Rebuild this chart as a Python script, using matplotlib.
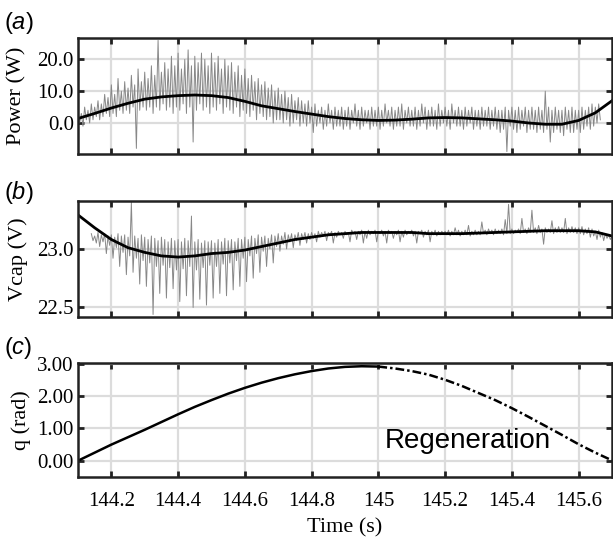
import numpy as np
import matplotlib
matplotlib.use("Agg")
import matplotlib.pyplot as plt

plt.rcParams['font.family'] = ['Liberation Serif', 'DejaVu Serif']
plt.rcParams['mathtext.fontset'] = 'custom'
plt.rcParams['mathtext.it'] = 'Liberation Sans:italic'

# ---- data ----
# smoothed traces, sampled every 0.05 s
t_smooth = [144.10, 144.15, 144.20, 144.25, 144.30, 144.35, 144.40, 144.45, 144.50,
            144.55, 144.60, 144.65, 144.70, 144.75, 144.80, 144.85, 144.90, 144.95,
            145.00, 145.05, 145.10, 145.15, 145.20, 145.25, 145.30, 145.35, 145.40,
            145.45, 145.50, 145.55, 145.60, 145.65, 145.70]
power_mean = [1.4, 3.0, 4.7, 6.2, 7.5, 8.2, 8.6, 8.8, 8.6, 8.0, 6.8, 5.4, 4.5, 3.6, 2.8,
              2.0, 1.4, 1.0, 0.8, 0.9, 1.2, 1.6, 1.7, 1.6, 1.3, 1.0, 0.6, 0.0, -0.4,
              -0.4, 0.8, 3.2, 7.0]
vcap_mean = [23.29, 23.18, 23.08, 23.01, 22.97, 22.94, 22.93, 22.94, 22.96, 22.97,
             22.99, 23.02, 23.05, 23.08, 23.10, 23.12, 23.13, 23.14, 23.14, 23.14,
             23.14, 23.13, 23.13, 23.13, 23.135, 23.14, 23.145, 23.15, 23.155,
             23.155, 23.155, 23.145, 23.11]

# raw power: per 0.01 s bin, peak (hi) and trough (lo), 144.10 .. 145.66
power_hi = [4, 3, 5, 4, 6, 5, 7, 6, 9, 8,
            12, 9, 14, 10, 13, 11, 15, 12, 17, 13,
            16, 14, 18, 15, 26, 16, 19, 17, 21, 18,
            22, 17, 20, 23, 18, 21, 19, 22, 20, 18,
            22, 19, 21, 17, 20, 18, 19, 16, 18, 15,
            17, 14, 15, 13, 14, 12, 13, 11, 12, 10,
            11, 9, 10, 8, 9, 7, 8, 7, 6, 7,
            5, 6, 4, 5, 4, 6, 4, 5, 4, 5,
            4, 5, 4, 6, 4, 5, 4, 4, 5, 4,
            5, 4, 6, 4, 5, 4, 5, 6, 4, 5,
            4, 5, 4, 6, 5, 4, 5, 4, 6, 4,
            5, 4, 6, 4, 5, 4, 5, 4, 5, 4,
            4, 5, 4, 5, 4, 5, 4, 4, 5, 4,
            5, 4, 5, 4, 5, 4, 5, 4, 5, 4,
            10, 5, 4, 5, 4, 4, 5, 4, 5, 4,
            4, 5, 4, 5, 6, 5, 6]
power_lo = [0, -1, 1, 0, 1, 2, 1, 2, 3, 2,
            3, 2, 4, 3, 4, 3, 5, -8, 4, 5,
            4, 5, 3, 5, 4, 6, 4, 5, 3, 5,
            4, 6, 3, 5, -6, 4, 6, 4, 5, 3,
            5, 4, 6, 3, 5, 4, 3, 5, 2, 4,
            3, 2, 4, 1, 3, 2, 1, 2, 0, 1,
            1, 0, 1, -1, 0, 1, -1, 0, -1, 0,
            -3, -1, 0, -2, -1, 0, -2, -1, -1, -2,
            -1, -2, 0, -1, -2, -1, 0, -2, -1, -1,
            -2, -1, 0, -1, -2, -1, -1, -2, 0, -1,
            -1, -2, -1, 0, -2, -1, -1, -2, -1, 0,
            -1, -2, 0, -1, -1, -2, -1, 0, -2, -1,
            -2, -1, -1, -2, -1, -2, -3, -2, -9, -1,
            -2, -3, -2, -1, -3, -2, -2, -3, -2, -3,
            -2, -6, -3, -2, -3, -4, -2, -3, -3, -2,
            -3, -2, -1, -2, -1, 0, 1]

# raw capacitor voltage: per 0.01 s bin, 144.14 .. 145.70
vcap_hi = [23.13, 23.11, 23.14, 23.12, 23.13, 23.11,
           23.12, 23.10, 23.13, 23.11, 23.12, 23.10, 23.40, 23.11, 23.09, 23.12,
           23.10, 23.08, 23.11, 23.09, 23.07, 23.10, 23.08, 23.06, 23.09, 23.07,
           23.08, 23.06, 23.09, 23.07, 23.28, 23.06, 23.08, 23.05, 23.07, 23.06,
           23.07, 23.05, 23.08, 23.06, 23.09, 23.07, 23.08, 23.06, 23.09, 23.08,
           23.10, 23.08, 23.11, 23.09, 23.12, 23.10, 23.11, 23.09, 23.12, 23.11,
           23.13, 23.11, 23.14, 23.12, 23.13, 23.12, 23.14, 23.13, 23.14, 23.13,
           23.14, 23.13, 23.15, 23.14, 23.15, 23.14, 23.15, 23.14, 23.15, 23.14,
           23.15, 23.14, 23.16, 23.15, 23.15, 23.16, 23.15, 23.16, 23.15, 23.16,
           23.15, 23.16, 23.15, 23.16, 23.15, 23.15, 23.16, 23.15, 23.16, 23.15,
           23.16, 23.15, 23.15, 23.16, 23.15, 23.16, 23.15, 23.16, 23.15, 23.15,
           23.15, 23.16, 23.15, 23.18, 23.16, 23.15, 23.16, 23.20, 23.15, 23.16,
           23.15, 23.23, 23.16, 23.17, 23.16, 23.17, 23.16, 23.17, 23.25, 23.38,
           23.17, 23.16, 23.17, 23.26, 23.17, 23.18, 23.33, 23.18, 23.20, 23.17,
           23.18, 23.17, 23.24, 23.18, 23.19, 23.18, 23.26, 23.18, 23.19, 23.18,
           23.18, 23.19, 23.17, 23.18, 23.17, 23.15, 23.16, 23.14, 23.13, 23.12, 23.11]
vcap_lo = [23.07, 23.05, 23.02, 23.06, 22.96, 23.03,
           22.92, 23.01, 22.85, 22.97, 22.78, 22.94, 22.80, 22.92, 22.70, 22.90,
           22.68, 22.88, 22.44, 22.85, 22.62, 22.86, 22.58, 22.84, 22.66, 22.82,
           22.55, 22.83, 22.60, 22.85, 22.50, 22.82, 22.57, 22.84, 22.52, 22.86,
           22.58, 22.85, 22.62, 22.87, 22.60, 22.88, 22.65, 22.90, 22.68, 22.92,
           22.72, 22.94, 22.75, 22.96, 22.80, 22.98, 22.85, 23.00, 22.88, 23.02,
           22.98, 23.04, 23.00, 23.06, 23.01, 23.07, 23.03, 23.08, 23.05, 23.08,
           23.09, 23.06, 23.10, 23.11, 23.07, 23.12, 23.05, 23.10, 23.12, 23.09,
           23.12, 23.06, 23.13, 23.08, 23.12, 23.05, 23.09, 23.12, 23.13, 23.06,
           23.13, 23.11, 23.05, 23.13, 23.09, 23.12, 23.06, 23.10, 23.12, 23.13,
           23.11, 23.05, 23.13, 23.10, 23.12, 23.06, 23.12, 23.11, 23.12, 23.13,
           23.12, 23.11, 23.12, 23.12, 23.11, 23.12, 23.12, 23.11, 23.12, 23.12,
           23.12, 23.13, 23.12, 23.13, 23.12, 23.13, 23.13, 23.12, 23.13, 23.13,
           23.13, 23.14, 23.13, 23.14, 23.13, 23.14, 23.14, 23.13, 23.14, 23.04,
           23.14, 23.14, 23.13, 23.14, 23.14, 23.14, 23.13, 23.14, 23.14, 23.13,
           23.13, 23.12, 23.13, 23.10, 23.11, 23.08, 23.10, 23.07, 23.09, 23.08, 23.09]

# joint angle: driving phase (solid) and regeneration phase (dash-dot)
t_drive = [144.10, 144.15, 144.20, 144.25, 144.30, 144.35, 144.40, 144.45, 144.50, 144.55,
           144.60, 144.65, 144.70, 144.75, 144.80, 144.85, 144.90, 144.95, 145.00]
q_drive = [0.00, 0.25, 0.50, 0.73, 0.96, 1.20, 1.44, 1.67, 1.88, 2.08,
           2.26, 2.42, 2.56, 2.68, 2.78, 2.86, 2.91, 2.93, 2.92]
t_regen = [145.00, 145.05, 145.10, 145.15, 145.20, 145.25, 145.30, 145.35,
           145.40, 145.45, 145.50, 145.55, 145.60, 145.65, 145.70]
q_regen = [2.92, 2.86, 2.78, 2.67, 2.51, 2.32, 2.10, 1.88, 1.63, 1.36,
           1.08, 0.80, 0.51, 0.25, 0.01]

x_ticks = [144.2, 144.4, 144.6, 144.8, 145.0, 145.2, 145.4, 145.6]
x_labels = ['144.2', '144.4', '144.6', '144.8', '145', '145.2', '145.4', '145.6']


def zigzag(t0, hi, lo, step=0.01):
    # each bin drawn as its peak followed by its trough
    t = t0 + step * np.arange(len(hi))
    tz = np.empty(2 * len(hi))
    vz = np.empty(2 * len(hi))
    tz[0::2], tz[1::2] = t, t + step / 2
    vz[0::2], vz[1::2] = hi, lo
    return tz, vz


def style_axes(ax, yticks, ylabels, ylim):
    ax.set_xlim(144.1, 145.7)
    ax.set_ylim(*ylim)
    ax.set_xticks(x_ticks)
    ax.set_yticks(yticks)
    ax.set_yticklabels(ylabels)
    ax.grid(True, color='#dcdcdc', lw=1.6)
    ax.set_axisbelow(True)
    ax.tick_params(direction='in', length=4, width=2, color='#222222',
                   top=True, right=True, labelsize=15)
    ax.tick_params(axis='y', pad=3)
    ax.tick_params(axis='x', pad=11)
    for s in ax.spines.values():
        s.set_linewidth(1.8)
        s.set_color('#222222')


fig = plt.figure(figsize=(6.13, 5.37), dpi=100)
ax1 = fig.add_axes([0.1272, 0.713, 0.8712, 0.216])
ax2 = fig.add_axes([0.1272, 0.410, 0.8712, 0.216])
ax3 = fig.add_axes([0.1272, 0.112, 0.8712, 0.212])

# (a) power
tz, vz = zigzag(144.10, power_hi, power_lo)
ax1.plot(tz, vz, color='#888888', lw=0.7)
ax1.plot(t_smooth, power_mean, color='black', lw=2)
style_axes(ax1, [0, 10, 20], ['0.0', '10.0', '20.0'], (-9.8, 26.7))
ax1.set_xticklabels([])
ax1.set_ylabel('Power (W)', fontsize=16)
ax1.yaxis.set_label_coords(-0.096, 0.5)

# (b) capacitor voltage
tz, vz = zigzag(144.14, vcap_hi, vcap_lo)
ax2.plot(tz, vz, color='#888888', lw=0.7)
ax2.plot(t_smooth, vcap_mean, color='black', lw=2)
style_axes(ax2, [22.5, 23.0], ['22.5', '23.0'], (22.42, 23.41))
ax2.set_xticklabels([])
ax2.set_ylabel('Vcap (V)', fontsize=16)
ax2.yaxis.set_label_coords(-0.093, 0.5)

# (c) angle
ax3.plot(t_drive, q_drive, color='black', lw=1.8)
ax3.plot(t_regen, q_regen, color='black', lw=1.8, linestyle=(0, (3.5, 1.2, 1, 1.2)))
style_axes(ax3, [0, 1, 2, 3], ['0.00', '1.00', '2.00', '3.00'], (-0.5, 3.03))
ax3.set_xticklabels(x_labels)
ax3.set_ylabel('q (rad)', fontsize=16)
ax3.yaxis.set_label_coords(-0.088, 0.5)
ax3.set_xlabel('Time (s)', fontsize=16, labelpad=5)
ax3.text(145.268, 0.62, 'Regeneration', family='Liberation Sans', fontsize=20,
         ha='center', va='center')

for ax, lab, y in [(ax1, 'a', 0.958), (ax2, 'b', 0.641), (ax3, 'c', 0.352)]:
    fig.text(0.006, y, '($\\mathit{%s}$)' % lab, family='Liberation Sans',
             fontsize=17, va='center', ha='left')

fig.savefig('out.png', dpi=100)
